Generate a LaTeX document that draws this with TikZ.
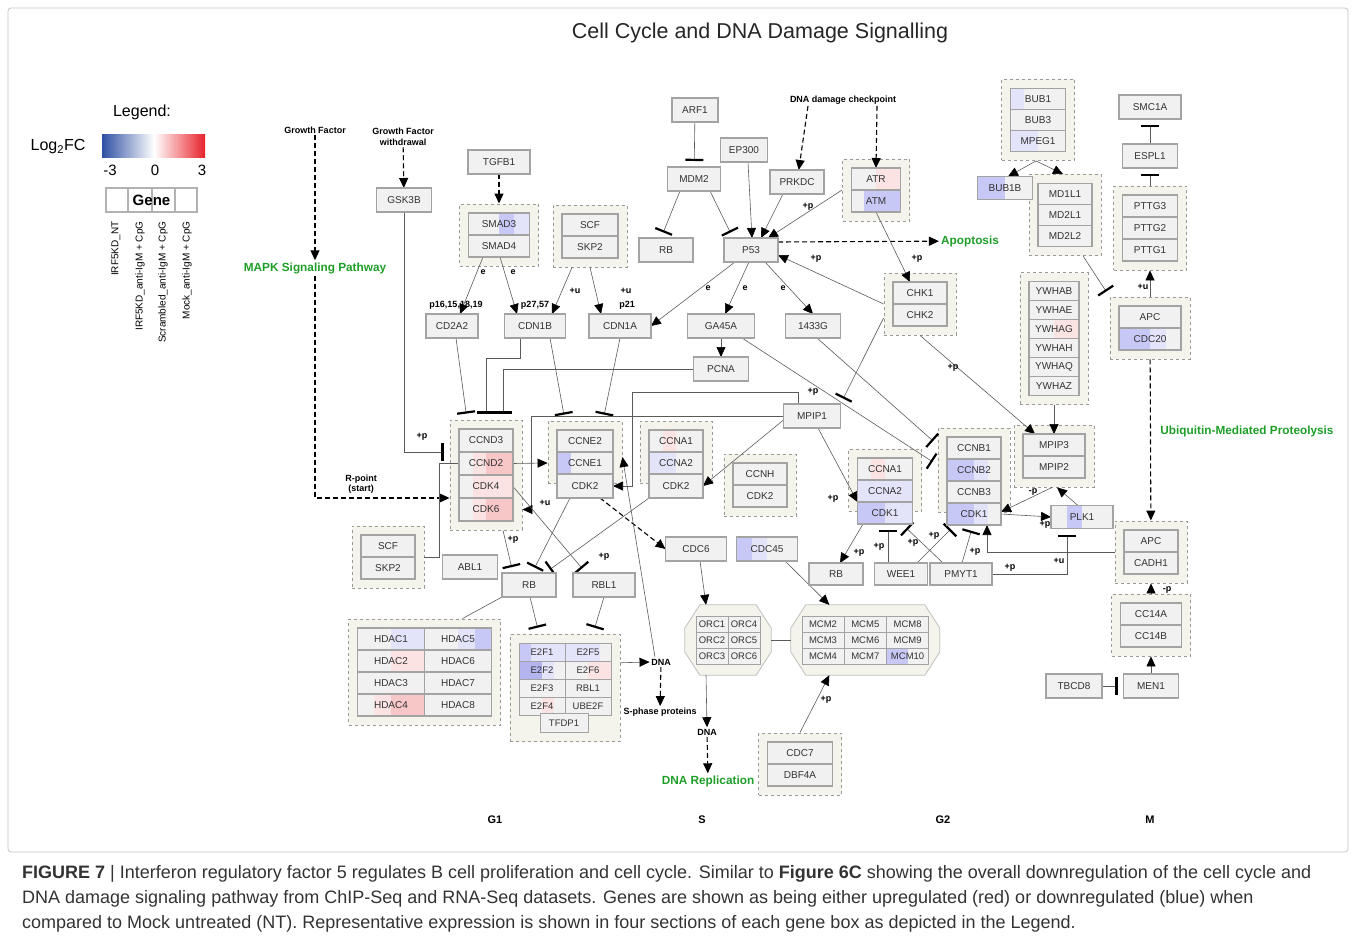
\documentclass[tikz,border=0pt]{standalone}
\usepackage{fontspec}
\setmainfont{Liberation Sans}
\usetikzlibrary{positioning,arrows.meta,fit,calc,backgrounds}
\pgfdeclarelayer{edges}
\pgfsetlayers{background,edges,main}
\definecolor{bx}{HTML}{F1F1F1}
\definecolor{bxline}{HTML}{A3A3A3}
\definecolor{grpfill}{HTML}{F4F4EC}
\definecolor{grpline}{HTML}{9A9A9A}
\definecolor{lb}{HTML}{E3E3FA}
\definecolor{mb}{HTML}{C8C8F6}
\definecolor{db}{HTML}{B4B4EE}
\definecolor{lr}{HTML}{FBE3E3}
\definecolor{mr}{HTML}{F7C6C6}
\definecolor{pwgreen}{HTML}{1E9E28}
\definecolor{lgblue}{HTML}{2E4FA3}
\definecolor{lgred}{HTML}{E8222B}
\definecolor{lnclr}{HTML}{5A5A5A}
\definecolor{frameclr}{HTML}{C4C4C4}
\newcommand\genefont{\fontsize{10}{12}\selectfont}
\newcommand\cellfont{\fontsize{9.5}{11}\selectfont}
\newcommand\labfont{\bfseries\fontsize{9}{10.5}\selectfont}
\newcommand\pwfont{\bfseries\fontsize{11.8}{14}\selectfont}
\newcommand\capfont{\fontsize{18}{21}\selectfont}
\tikzset{
  gene/.style = {rectangle, draw=bxline, line width=1.3pt, fill=bx,
                 text=black!80, font=\genefont,
                 minimum width=54pt, minimum height=22pt,
                 inner sep=1pt, outer sep=0pt},
  sgl/.style  = {gene, minimum height=24pt},
  hcell/.style = {gene, minimum width=67pt},
  ecell/.style = {gene, line width=1pt, font=\cellfont,
                  minimum width=46pt, minimum height=18pt},
  cell/.style = {gene, line width=1pt, font=\cellfont,
                 minimum width=32pt, minimum height=16pt},
  grp/.style  = {rectangle, draw=grpline, dashed, line width=0.9pt,
                 fill=grpfill, inner sep=9pt},
  octo/.style = {draw=black!25, line width=0.8pt, fill=grpfill},
  lfc/.style n args = {4}{path picture={
      \foreach \qc [count=\i] in {#1,#2,#3,#4}{
        \pgfmathsetmacro\qa{(\i-1)/4}\pgfmathsetmacro\qb{\i/4}
        \fill[\qc] ($(path picture bounding box.south west)!\qa!(path picture bounding box.south east)$)
          rectangle ($(path picture bounding box.north west)!\qb!(path picture bounding box.north east)$);
      }}},
  ln/.style   = {draw=lnclr, line width=0.6pt},
  arr/.style  = {ln, -{Triangle[length=10pt,width=9pt,color=black]}},
  inh/.style  = {ln, -{Bar[width=18pt,line width=2.2pt,color=black]}, shorten >=6pt},
  dsh/.style  = {-{Triangle[length=10pt,width=9pt]}, black, line width=1.1pt,
                 dash pattern=on 5pt off 3pt},
  lab/.style  = {font=\labfont, inner sep=1.5pt, align=center},
  pway/.style = {font=\pwfont, text=pwgreen, inner sep=2pt},
  phase/.style = {font=\bfseries\fontsize{11}{13}\selectfont}
}

\begin{document}
\begin{tikzpicture}[x=1pt, y=-1pt]
\useasboundingbox (0,0) rectangle (1356,941);
\draw[frameclr, line width=0.8pt, rounded corners=3pt] (8,8) rectangle (1348,852);
\node[font=\fontsize{21.5}{25}\selectfont, text=black!85] (title) at (760,33)
  {Cell Cycle and DNA Damage Signalling};

% legend
\node[font=\fontsize{16}{18}\selectfont] (legtitle) at (142,112) {Legend:};
\node[font=\fontsize{16}{18}\selectfont] (log2fc) at (58,147) {Log\textsubscript{2}FC};
\shade[left color=lgblue, right color=white] (102,135) rectangle (154,158);
\shade[left color=white, right color=lgred] (154,135) rectangle (205,158);
\node[font=\fontsize{15}{17}\selectfont] (lgm) at (110,170) {-3};
\node[font=\fontsize{15}{17}\selectfont] (lgz) at (155,170) {0};
\node[font=\fontsize{15}{17}\selectfont] (lgp) at (202,170) {3};
\node[draw=black!30, line width=2.5pt, minimum width=91pt, minimum height=24pt,
      font=\bfseries\fontsize{15}{17}\selectfont] (legbox) at (151.5,200) {Gene};
\node[rotate=90, anchor=east, font=\fontsize{10}{12}\selectfont] (lg1) at (116,218) {IRF5KD\_NT};
\node[rotate=90, anchor=east, font=\fontsize{10}{12}\selectfont] (lg2) at (140,218) {IRF5KD\_anti-IgM + CpG};
\node[rotate=90, anchor=east, font=\fontsize{10}{12}\selectfont] (lg3) at (163,218) {Scrambled\_anti-IgM + CpG};
\node[rotate=90, anchor=east, font=\fontsize{10}{12}\selectfont] (lg4) at (187,218) {Mock\_anti-IgM + CpG};

% pathway labels
\node[lab] (gf) at (315,130) {Growth Factor};
\node[lab] (gfw) at (403,137) {Growth Factor\\withdrawal};
\node[pway] (mapk) at (315,268) {MAPK Signaling Pathway};
\node[lab] (rpt) at (361,484) {R-point\\(start)};
\node[lab] (ddc) at (843,100) {DNA damage checkpoint};
\node[pway] (apop) at (970,241) {Apoptosis};
\node[pway] (ubq) at (1247,431) {Ubiquitin-Mediated Proteolysis};
\node[lab] (dnaa) at (661,662) {DNA};
\node[lab] (sphase) at (660,712) {S-phase proteins};
\node[lab] (dnab) at (707,732) {DNA};
\node[pway] (drep) at (708,781) {DNA Replication};
\node[phase] (g1) at (495,820) {G1};
\node[phase] (sph) at (702,820) {S};
\node[phase] (g2) at (943,820) {G2};
\node[phase] (mph) at (1150,820) {M};

% G1 entry
\node[sgl, minimum width=62pt] (tgfb1) at (499,162) {TGFB1};
\node[sgl, minimum width=55pt] (gsk3b) at (404,200) {GSK3B};
\node[gene, minimum width=61pt, lfc={bx}{bx}{mb}{lb}] (smad3) at (499,224) {SMAD3};
\node[gene, minimum width=61pt, below=0pt of smad3] (smad4) {SMAD4};
\node[gene, minimum width=56pt] (scfa) at (590,225) {SCF};
\node[gene, minimum width=56pt, below=0pt of scfa] (skp2a) {SKP2};
\node[sgl, minimum width=52pt] (cd2a2) at (452,326) {CD2A2};
\node[sgl, minimum width=61pt] (cdn1b) at (535,326) {CDN1B};
\node[sgl, minimum width=62pt] (cdn1a) at (620,326) {CDN1A};

% p53 axis
\node[sgl, minimum width=46pt] (arf1) at (695,110) {ARF1};
\node[sgl, minimum width=53pt] (mdm2) at (694,179) {MDM2};
\node[sgl, minimum width=47pt] (ep300) at (744,150) {EP300};
\node[sgl] (prkdc) at (797,182) {PRKDC};
\node[gene, minimum width=49pt, lfc={bx}{bx}{lr}{lr}] (atr) at (876,179) {ATR};
\node[gene, minimum width=49pt, lfc={bx}{mb}{mb}{mb}, below=0pt of atr] (atm) {ATM};
\node[sgl] (rba) at (666,250) {RB};
\node[sgl] (p53) at (751,250) {P53};
\node[gene] (chk1) at (920,293) {CHK1};
\node[gene, below=0pt of chk1] (chk2) {CHK2};
\node[sgl, minimum width=67pt] (ga45a) at (721,326) {GA45A};
\node[sgl, minimum width=55pt] (g1433) at (813,326) {1433G};
\node[sgl, minimum width=55pt] (pcna) at (721,369) {PCNA};
\node[sgl, minimum width=57pt] (mpip1) at (812,416) {MPIP1};

% G1/S complexes
\node[gene, minimum height=23pt] (ccnd3) at (486,440.5) {CCND3};
\node[gene, minimum height=23pt, below=0pt of ccnd3, lfc={bx}{lr}{mr}{mr}] (ccnd2) {CCND2};
\node[gene, minimum height=23pt, below=0pt of ccnd2, lfc={bx}{lr}{lr}{lr}] (cdk4) {CDK4};
\node[gene, minimum height=23pt, below=0pt of cdk4, lfc={bx}{lr}{mr}{mr}] (cdk6) {CDK6};
\node[gene, minimum width=56pt] (ccne2) at (585,441) {CCNE2};
\node[gene, minimum width=56pt, below=0pt of ccne2, lfc={mb}{bx}{bx}{bx}] (ccne1) {CCNE1};
\node[gene, minimum width=56pt, minimum height=24pt, below=0pt of ccne1] (cdk2a) {CDK2};
\node[gene, lfc={bx}{lr}{bx}{bx}] (ccna1a) at (676,441) {CCNA1};
\node[gene, below=0pt of ccna1a, lfc={lb}{lb}{bx}{bx}] (ccna2a) {CCNA2};
\node[gene, minimum height=24pt, below=0pt of ccna2a] (cdk2b) {CDK2};
\node[gene] (ccnh) at (760,474) {CCNH};
\node[gene, below=0pt of ccnh] (cdk2c) {CDK2};
\node[sgl, minimum width=61pt] (cdc6) at (696,549) {CDC6};
\node[sgl, minimum width=61pt, lfc={mb}{lb}{bx}{bx}] (cdc45) at (767,549) {CDC45};
\node[gene] (scfb) at (388,546) {SCF};
\node[gene, below=0pt of scfb] (skp2b) {SKP2};
\node[sgl, minimum width=55pt] (abl1) at (470,567) {ABL1};
\node[sgl] (rbc) at (529,585) {RB};
\node[sgl, minimum width=62pt] (rbl1a) at (604,585) {RBL1};

% HDAC and E2F
\node[hcell, lfc={bx}{bx}{lb}{lb}] (hdac1) at (391,639) {HDAC1};
\node[hcell, lfc={bx}{bx}{lr}{lr}] (hdac2) at (391,661) {HDAC2};
\node[hcell] (hdac3) at (391,683) {HDAC3};
\node[hcell, lfc={bx}{lr}{mr}{mr}] (hdac4) at (391,705) {HDAC4};
\node[hcell, lfc={bx}{bx}{lb}{mb}] (hdac5) at (458,639) {HDAC5};
\node[hcell] (hdac6) at (458,661) {HDAC6};
\node[hcell] (hdac7) at (458,683) {HDAC7};
\node[hcell] (hdac8) at (458,705) {HDAC8};
\node[ecell, lfc={mb}{lb}{lb}{lb}] (e2f1) at (542,652) {E2F1};
\node[ecell, lfc={db}{db}{lb}{bx}] (e2f2) at (542,670) {E2F2};
\node[ecell] (e2f3) at (542,688) {E2F3};
\node[ecell, lfc={bx}{bx}{lr}{bx}] (e2f4) at (542,706) {E2F4};
\node[ecell, lfc={lb}{lb}{lb}{bx}] (e2f5) at (588,652) {E2F5};
\node[ecell, lfc={bx}{bx}{lr}{lr}] (e2f6) at (588,670) {E2F6};
\node[ecell] (rbl1b) at (588,688) {RBL1};
\node[ecell] (ube2f) at (588,706) {UBE2F};
\node[ecell, minimum width=48pt, minimum height=19pt] (tfdp1) at (564,723) {TFDP1};

% replication
\foreach \n/\c/\r in {ORC1/0/0,ORC2/0/1,ORC3/0/2,ORC4/1/0,ORC5/1/1,ORC6/1/2}
  \node[cell] (\n) at (712+32*\c, 624+16*\r) {\n};
\foreach \n/\c/\r in {MCM2/0/0,MCM3/0/1,MCM4/0/2,MCM5/1/0,MCM6/1/1,MCM7/1/2,MCM8/2/0,MCM9/2/1}
  \node[cell, minimum width=42pt] (\n) at (823+42.3*\c, 624+16*\r) {\n};
\node[cell, minimum width=42pt, lfc={mb}{mb}{bx}{bx}] (MCM10) at (907.6,656) {MCM10};
\node[gene, minimum width=65pt] (cdc7) at (800,753) {CDC7};
\node[gene, minimum width=65pt, below=0pt of cdc7] (dbf4a) {DBF4A};

% G2/M complexes
\node[gene, minimum width=55pt, lfc={bx}{lr}{bx}{bx}] (ccna1b) at (885,469) {CCNA1};
\node[gene, minimum width=55pt, below=0pt of ccna1b, lfc={lb}{lb}{lb}{lb}] (ccna2b) {CCNA2};
\node[gene, minimum width=55pt, below=0pt of ccna2b, lfc={mb}{mb}{lb}{lb}] (cdk1a) {CDK1};
\node[gene] (ccnb1) at (974,448) {CCNB1};
\node[gene, below=0pt of ccnb1, lfc={mb}{mb}{lb}{bx}] (ccnb2) {CCNB2};
\node[gene, below=0pt of ccnb2] (ccnb3) {CCNB3};
\node[gene, below=0pt of ccnb3, lfc={mb}{mb}{lb}{bx}] (cdk1b) {CDK1};
\node[gene] (rbb) at (836,574) {RB};
\node[gene, minimum width=53pt] (wee1) at (901,574) {WEE1};
\node[gene, minimum width=62pt] (pmyt1) at (961,574) {PMYT1};
\node[gene, minimum width=62pt, minimum height=23pt, lfc={bx}{mb}{bx}{bx}] (plk1) at (1082,517) {PLK1};
\node[gene, minimum width=62pt] (mpip3) at (1054,445) {MPIP3};
\node[gene, minimum width=62pt, below=0pt of mpip3] (mpip2) {MPIP2};
\node[gene, minimum width=50pt, minimum height=19pt] (ywhab) at (1054,291) {YWHAB};
\node[gene, minimum width=50pt, minimum height=19pt, below=0pt of ywhab] (ywhae) {YWHAE};
\node[gene, minimum width=50pt, minimum height=19pt, below=0pt of ywhae, lfc={bx}{bx}{lr}{lr}] (ywhag) {YWHAG};
\node[gene, minimum width=50pt, minimum height=19pt, below=0pt of ywhag] (ywhah) {YWHAH};
\node[gene, minimum width=50pt, minimum height=19pt, below=0pt of ywhah] (ywhaq) {YWHAQ};
\node[gene, minimum width=50pt, minimum height=19pt, below=0pt of ywhaq] (ywhaz) {YWHAZ};
\node[gene, minimum width=55pt, minimum height=21pt, lfc={lb}{bx}{bx}{bx}] (bub1) at (1038,99) {BUB1};
\node[gene, minimum width=55pt, minimum height=21pt, below=0pt of bub1] (bub3) {BUB3};
\node[gene, minimum width=55pt, minimum height=21pt, below=0pt of bub3, lfc={lb}{lb}{bx}{bx}] (mpeg1) {MPEG1};
\node[gene, minimum width=55pt, minimum height=23pt, lfc={mb}{mb}{bx}{bx}] (bub1b) at (1005,188) {BUB1B};
\node[gene, minimum height=21pt] (md1l1) at (1065,194) {MD1L1};
\node[gene, minimum height=21pt, below=0pt of md1l1] (md2l1) {MD2L1};
\node[gene, minimum height=21pt, below=0pt of md2l1] (md2l2) {MD2L2};
\node[sgl, minimum width=62pt] (smc1a) at (1150,107) {SMC1A};
\node[sgl, minimum width=55pt] (espl1) at (1150,156) {ESPL1};
\node[gene, minimum width=55pt] (pttg3) at (1150,206) {PTTG3};
\node[gene, minimum width=55pt, below=0pt of pttg3] (pttg2) {PTTG2};
\node[gene, minimum width=55pt, below=0pt of pttg2] (pttg1) {PTTG1};
\node[gene, minimum width=62pt] (apca) at (1150,317) {APC};
\node[gene, minimum width=62pt, below=0pt of apca, lfc={mb}{mb}{lb}{bx}] (cdc20) {CDC20};
\node[gene] (apcb) at (1151,541) {APC};
\node[gene, below=0pt of apcb] (cadh1) {CADH1};
\node[gene, minimum width=61pt] (cc14a) at (1151,614) {CC14A};
\node[gene, minimum width=61pt, below=0pt of cc14a] (cc14b) {CC14B};
\node[sgl, minimum width=55pt] (men1) at (1151,686) {MEN1};
\node[sgl, minimum width=56pt] (tbcd8) at (1074,686) {TBCD8};

% complexes
\begin{scope}[on background layer]
  \node[grp, fit=(smad3)(smad4)] (smadg) {};
  \node[grp, fit=(scfa)(skp2a)] (scfga) {};
  \node[grp, fit=(atr)(atm)] (atmg) {};
  \node[grp, fit=(chk1)(chk2)] (chkg) {};
  \node[grp, fit=(ccnd3)(cdk6)] (ccndg) {};
  \node[grp, fit=(ccne2)(ccne1)] (ccneg) {};
  \node[grp, fit=(ccna1a)(ccna2a)] (ccnaga) {};
  \node[grp, fit=(ccnh)(cdk2c)] (ccnhg) {};
  \node[grp, fit=(ccna1b)(ccna2b)] (ccnagb) {};
  \node[grp, fit=(ccnb1)(ccnb3)] (ccnbg) {};
  \node[grp, fit=(mpip3)(mpip2)] (mpipg) {};
  \node[grp, fit=(ywhab)(ywhaz)] (ywhg) {};
  \node[grp, fit=(bub1)(mpeg1)] (bubg) {};
  \node[grp, fit=(md1l1)(md2l2)] (mdg) {};
  \node[grp, fit=(pttg3)(pttg1)] (pttgg) {};
  \node[grp, fit=(apca)(cdc20)] (apcg1) {};
  \node[grp, fit=(apcb)(cadh1)] (apcg2) {};
  \node[grp, fit=(cc14a)(cc14b)] (cc14g) {};
  \node[grp, fit=(scfb)(skp2b)] (scfgb) {};
  \node[grp, fit=(hdac1)(hdac8)] (hdacg) {};
  \node[grp, fit=(e2f1)(ube2f)(tfdp1)] (e2fg) {};
  \node[grp, fit=(cdc7)(dbf4a)] (cdc7g) {};
  \node[fit=(ORC1)(ORC6), inner sep=11pt] (orcbox) {};
  \node[fit=(MCM2)(MCM10), inner sep=11pt] (mcmbox) {};
  \foreach \oc in {orcbox,mcmbox}
    \draw[octo] ([yshift=12pt]\oc.west) -- ([xshift=15pt]\oc.north west)
      -- ([xshift=-15pt]\oc.north east) -- ([yshift=12pt]\oc.east)
      -- ([yshift=-12pt]\oc.east) -- ([xshift=-15pt]\oc.south east)
      -- ([xshift=15pt]\oc.south west) -- ([yshift=-12pt]\oc.west) -- cycle;
\end{scope}

\begin{pgfonlayer}{edges}
  \foreach \k in {1,2,3}
    \draw[black!30, line width=2pt] ($(legbox.north west)!\k/4!(legbox.north east)$)
      -- ($(legbox.south west)!\k/4!(legbox.south east)$);
  % growth signals
  \draw[dsh] (gf) -- (mapk);
  \draw[dsh] (mapk) |- (ccndg.west |- cdk6.north);
  \draw[dsh] (gfw) -- (gsk3b);
  \draw[inh] (gsk3b) |- (ccndg.west |- ccnd2.north);
  \draw[dsh] (tgfb1) -- (smadg);
  \draw[arr] ([xshift=-16pt]smad4.south) -- ([xshift=8pt]cd2a2.north);
  \draw[arr] ([xshift=1pt]smad4.south) -- ([xshift=-18pt]cdn1b.north);
  \draw[arr] ([xshift=-18pt]scfga.south) -- ([xshift=17pt]cdn1b.north);
  \draw[arr] (scfga.south) -- ([xshift=-19pt]cdn1a.north);
  % p53
  \draw[inh] (arf1) -- (mdm2);
  \draw[inh] ([xshift=-14pt]mdm2.south) -- ([xshift=-5pt]rba.north);
  \draw[inh] ([xshift=16pt]mdm2.south) -- ([xshift=-18pt]p53.north);
  \draw[arr] ([xshift=4pt]ep300.south) -- ([xshift=1pt]p53.north);
  \draw[arr] ([xshift=-14pt]prkdc.south) -- ([xshift=10pt]p53.north);
  \draw[dsh] ([xshift=-35pt]ddc.south) -- (prkdc);
  \draw[dsh] ([xshift=34pt]ddc.south) -- (atr.north);
  \draw[arr] (atmg.west) -- ([xshift=17pt]p53.north);
  \draw[dsh] ([yshift=8pt]p53.east) -- (apop);
  \draw[arr] (atm.south) -- ([xshift=-10pt]chk1.north);
  \draw[arr] (chkg.west) -- ([yshift=-5pt]p53.east);
  \draw[arr] ([xshift=-16pt]p53.south) -- (cdn1a.east);
  \draw[arr] ([xshift=-2pt]p53.south) -- ([xshift=4pt]ga45a.north);
  \draw[arr] ([xshift=14pt]p53.south) -- (g1433.north);
  \draw[arr] (ga45a) -- (pcna);
  \draw[inh] ([xshift=21pt]ga45a.south) -- ([yshift=5pt]ccnbg.west);
  \draw[inh] ([xshift=4pt]g1433.south) -- ([yshift=25pt]ccnbg.west);
  \draw[inh] ([yshift=-14pt]chkg.west) -- (mpip1.north east);
  \draw[arr] (chkg.south) -- ([xshift=-19pt]mpip3.north);
  % G1 control
  \draw[inh] ([xshift=4pt]cd2a2.south) -- ([xshift=-19pt]ccndg.north);
  \draw[inh] ([xshift=-15pt]cdn1b.south) -- ++(0,20) -| (ccndg.north);
  \draw[inh] (pcna.west) -| ([xshift=17pt]ccndg.north);
  \draw[inh] ([xshift=15pt]cdn1b.south) -- ([xshift=-20pt]ccneg.north);
  \draw[inh] (cdn1a.south) -- ([xshift=18pt]ccneg.north);
  \coordinate (k1) at (632,392);
  \coordinate (k2) at (531,416);
  \draw[ln] ([xshift=-14pt]mpip1.north) |- (k1);
  \draw[arr] (k1) |- (cdk2a.east);
  \draw[ln] (mpip1.west) -- (k2);
  \draw[arr] (k2) |- (ccndg.east |- cdk6);
  \draw[arr] ([yshift=-4pt]mpip1.west) -- (cdk2b.east);
  \draw[arr] ([xshift=6pt]mpip1.south) -- (cdk1a.north west);
  \draw[arr] (ccnd2.east) -- (ccneg.west |- ccne1);
  \draw[ln] (scfgb.east) -| ([xshift=-20pt]ccnd2.west) -- (ccnd2.west);
  \draw[inh] ([xshift=17pt]ccndg.south) -- ([xshift=-16pt]rbc.north);
  \draw[inh] (cdk4.east) -- ([xshift=-18pt]rbl1a.north);
  \draw[inh] ([xshift=-15pt]cdk2a.south) -- ([xshift=3pt]rbc.north);
  \draw[inh] (cdk2b.south west) -- ([xshift=16pt]rbc.north);
  \draw[dsh] ([xshift=15pt]cdk2a.south) -- (cdc6.west);
  \draw[arr] ([xshift=-6pt]dnaa.north) -- ([yshift=-5pt]ccneg.east);
  \draw[ln] (rbc.south west) -- ([xshift=38pt]hdacg.north);
  \draw[inh] ([xshift=1pt]rbc.south) -- ([xshift=-26pt]e2fg.north);
  \draw[inh] (rbl1a.south) -- ([xshift=28pt]e2fg.north);
  \draw[arr] ([yshift=25pt]e2fg.east) -- (dnaa.west);
  \draw[dsh] (dnaa) -- (sphase);
  % replication
  \draw[arr] ([xshift=4pt]cdc6.south) -- ([xshift=-22pt]orcbox.north);
  \draw[arr] ([xshift=18pt]cdc45.south) -- ([xshift=-36pt]mcmbox.north);
  \draw[ln] (orcbox.east) -- (mcmbox.west);
  \draw[arr] ([xshift=-22pt]orcbox.south) -- (dnab.north);
  \draw[dsh] (dnab) -- (drep);
  \draw[arr] (cdc7g.north) -- ([xshift=-36pt]mcmbox.south);
  % G2/M control
  \draw[arr] ([xshift=-22pt]cdk1a.south) -- ([xshift=4pt]rbb.north);
  \draw[inh] ([xshift=-13pt]wee1.north) -- ([xshift=3pt]cdk1a.south);
  \draw[inh] ([xshift=-18pt]pmyt1.north) -- ([xshift=17pt]cdk1a.south);
  \draw[inh] ([xshift=16pt]wee1.north) -- ([xshift=-19pt]cdk1b.south);
  \draw[inh] ([xshift=1pt]pmyt1.north) -- ([xshift=-1pt]cdk1b.south);
  \draw[arr] (apcg2.west) -| ([xshift=13pt]cdk1b.south);
  \draw[inh] (pmyt1.east) -| ([xshift=-15pt]plk1.south);
  \draw[arr] (cdk1b.east) -- (plk1.west);
  \draw[arr] ([xshift=-4pt]plk1.north) -- ([xshift=3pt]mpipg.south);
  \draw[arr] ([xshift=-2pt]mpipg.south) -- ([yshift=2pt]cdk1b.east);
  \draw[arr] (ywhg.south) -- (mpip3.north);
  \draw[arr] ([xshift=-2pt]bubg.south) -- ([xshift=3pt]bub1b.north);
  \draw[arr] ([xshift=-2pt]bubg.south) -- ([xshift=-2pt]mdg.north);
  \draw[inh] ([xshift=18pt]mdg.south) -- (apcg1.north west);
  \draw[inh] (espl1) -- (smc1a);
  \draw[inh] (pttgg) -- (espl1);
  \draw[arr] (apcg1) -- (pttgg);
  \draw[dsh] (apcg1) -- (apcg2);
  \draw[arr] (cc14g) -- (apcg2);
  \draw[arr] (men1) -- (cc14g);
  \draw[inh] (tbcd8) -- (men1);
\end{pgfonlayer}

% edge labels
\foreach \t/\x/\y [count=\i] in {+p/422/437, e/483/272, e/513/272, +u/575/291, +u/626/291,
    {p16,15,18,19}/456/305, {p27,57}/535/305, p21/627/305, +p/808/207, +p/816/259,
    +p/917/259, e/708/288, e/745/288, e/783/288, +p/813/392, +p/953/368,
    +u/545/503, +p/513/540, +p/604/557, +p/833/499, +p/859/553, +p/879/547,
    +p/913/543, +p/934/536, +p/975/552, +p/1045/525, -p/1033/492, +u/1059/561,
    +p/1010/568, +u/1143/287, -p/1167/590, +p/826/700}
  \node[lab] (elab\i) at (\x,\y) {\t};

% caption
\node[anchor=west, font=\capfont, text=black!80, inner sep=0pt] (cap1) at (22,874)
  {\textbf{FIGURE 7} | Interferon regulatory factor 5 regulates B cell proliferation and cell cycle. Similar to \textbf{Figure 6C} showing the overall downregulation of the cell cycle and};
\node[anchor=west, font=\capfont, text=black!80, inner sep=0pt] (cap2) at (22,899)
  {DNA damage signaling pathway from ChIP-Seq and RNA-Seq datasets. Genes are shown as being either upregulated (red) or downregulated (blue) when};
\node[anchor=west, font=\capfont, text=black!80, inner sep=0pt] (cap3) at (22,924)
  {compared to Mock untreated (NT). Representative expression is shown in four sections of each gene box as depicted in the Legend.};
\end{tikzpicture}
\end{document}
